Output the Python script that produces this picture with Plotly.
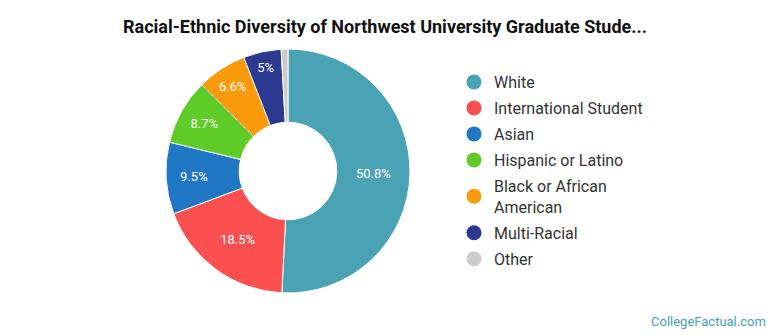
import plotly.graph_objects as go

categories = ["White", "International Student", "Asian", "Hispanic or Latino",
              "Black or African American", "Multi-Racial", "Other"]
legend_labels = ["White", "International Student", "Asian", "Hispanic or Latino",
                 "Black or African<br>American", "Multi-Racial", "Other"]
values = [50.8, 18.5, 9.5, 8.7, 6.6, 5.0, 0.9]
colors = ["#4aa3b5", "#fc5050", "#2077c4", "#5ecb26", "#fb9a0a", "#2b3990", "#cccccc"]

W, H = 770, 335
cx, cy, r = 288, 171, 122

texts = [f"{v:g}%" if v >= 2 else "" for v in values]

fig = go.Figure()
fig.add_trace(go.Pie(
    labels=categories, values=values, text=texts, textinfo="text",
    textposition="inside", insidetextorientation="horizontal",
    textfont=dict(family="Roboto", size=13, color="white"),
    marker=dict(colors=colors, line=dict(color="white", width=1)),
    hole=0.4, sort=False, direction="clockwise", rotation=0,
    showlegend=False, hoverinfo="label+percent",
    domain=dict(x=[(cx - r) / W, (cx + r) / W], y=[1 - (cy + r) / H, 1 - (cy - r) / H]),
))
for lab, col in zip(legend_labels, colors):
    fig.add_trace(go.Scatter(
        x=[None], y=[None], mode="markers", name=lab, legendgroup=lab,
        marker=dict(symbol="circle", size=15, color=col),
    ))

fig.update_layout(
    width=W, height=H, margin=dict(l=0, r=0, t=0, b=0),
    paper_bgcolor="white", plot_bgcolor="white",
    xaxis=dict(visible=False), yaxis=dict(visible=False),
    title=dict(text="<b>Racial-Ethnic Diversity of Northwest University Graduate Stude...</b>",
               x=0.5, xanchor="center", y=1 - 27 / H, yanchor="middle",
               font=dict(family="Roboto", size=18, color="#111")),
    legend=dict(x=454 / W, xanchor="left", y=1 - 65 / H, yanchor="top",
                font=dict(family="Roboto", size=16, color="#333"),
                tracegroupgap=2.2, itemwidth=30, bgcolor="rgba(0,0,0,0)"),
    annotations=[dict(text="CollegeFactual.com", x=1 - 2 / W, y=1 - 321 / H,
                      xref="paper", yref="paper", xanchor="right", yanchor="middle",
                      showarrow=False, font=dict(family="Roboto", size=13, color="#4a9fb5"))],
)
fig.write_html("out.html")
